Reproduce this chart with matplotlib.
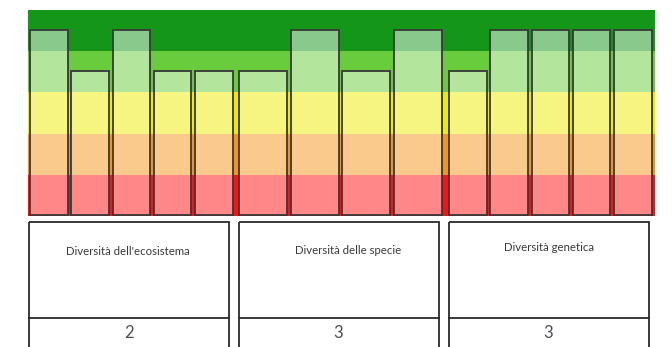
import matplotlib.pyplot as plt
from matplotlib.patches import Rectangle

# Data
groups = ["Diversità dell'ecosistema", "Diversità delle specie", "Diversità genetica"]
scores = [2, 3, 3]
bars_ecosystem = [4.5, 3.5, 4.5, 3.5, 3.5]
bars_species = [3.5, 4.5, 3.5, 4.5]
bars_genetic = [3.5, 4.5, 4.5, 4.5, 4.5]
band_colors = ['#ff1010', '#f5941a', '#ecec00', '#68cc3c', '#149619']  # bottom -> top

W, H = 672, 347
fig = plt.figure(figsize=(W / 100, H / 100), dpi=100)

# background layer in pixel units for the boxes and text
bg = fig.add_axes([0, 0, 1, 1])
bg.set_xlim(0, W)
bg.set_ylim(H, 0)
bg.axis('off')

# bar chart axes
left, right, top, bottom = 28, 655, 10, 216
ax = fig.add_axes([left / W, 1 - bottom / H, (right - left) / W, (bottom - top) / H])
ax.set_xlim(left, right)
ax.set_ylim(0, 5)
ax.axis('off')

# coloured bands
for i, c in enumerate(band_colors):
    ax.axhspan(i, i + 1, color=c, lw=0)

group_lefts = [30, 239, 449]
span, gap = 206.4, 3.7
for gl, vals in zip(group_lefts, [bars_ecosystem, bars_species, bars_genetic]):
    pitch = span / len(vals)
    xs = [gl + k * pitch for k in range(len(vals))]
    ax.bar(xs, vals, width=pitch - gap, align='edge', bottom=0.02,
           facecolor=(1, 1, 1, 0.5), edgecolor='#383838', linewidth=1.3)

# boxes under the chart
box_lefts = [29, 238.5, 448.5]
box_w = 200
label_pos = [(128, 251), (348.5, 251), (548.5, 247)]
for bl, name, score, (tx, ty) in zip(box_lefts, groups, scores, label_pos):
    bg.add_patch(Rectangle((bl, 222), box_w, 140, fill=False, ec='#2a2a2a', lw=1.3))
    bg.plot([bl, bl + box_w], [317.5, 317.5], color='#2a2a2a', lw=1.3)
    bg.text(tx, ty, name, ha='center', va='center', fontsize=8.2,
            family='Lato', color='#3a3a3a')
    bg.text(bl + box_w / 2, 333, str(score), ha='center', va='center',
            fontsize=12, family='Lato', color='#4a4f58')

fig.savefig('out.png', dpi=100)
